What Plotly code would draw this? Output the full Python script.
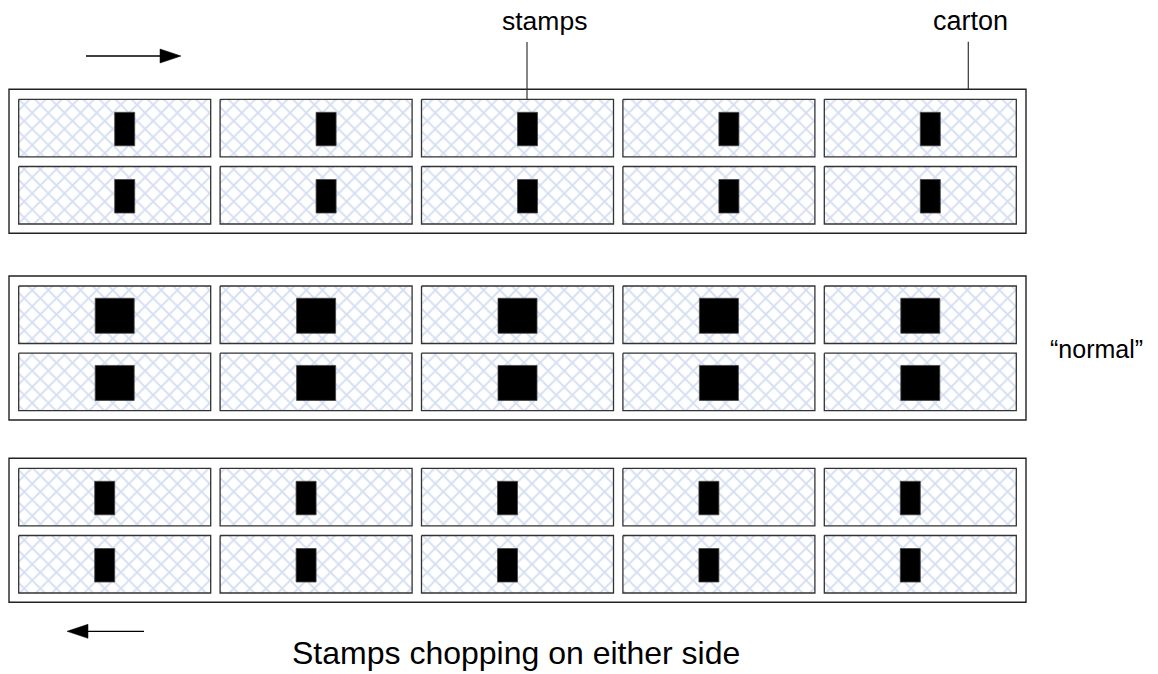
import plotly.graph_objects as go

# ---- diagram content ----
carton_names = ["stamps chopping right", "normal", "stamps chopping left"]
stamp_shift = [10, 0, -10]        # stamp centre offset from box centre (px)
stamp_width = [20, 39, 20]        # stamp width (px)
stamp_height = [33.5, 35, 33.5]   # stamp height (px)
boxes_per_row = 5
rows_per_carton = 2
labels = {"stamps": "stamps", "carton": "carton", "normal": "\u201cnormal\u201d",
          "caption": "Stamps chopping on either side"}

# ---- geometry (pixel space of the 1158x674 canvas) ----
W, H = 1158, 674
carton_x0, carton_x1 = 9, 1026
carton_top = [89.3, 276.0, 458.3]
carton_h = 144
box_x0, box_pitch, box_w = 18.7, 201.4, 192
box_pad_top, row_pitch, box_h = 10, 67.2, 57.5

shapes = []
bx_all, by_all = [], []
for c, top in enumerate(carton_top):
    shapes.append(dict(type="rect", xref="x", yref="y", x0=carton_x0, x1=carton_x1,
                       y0=top, y1=top + carton_h, line=dict(color="#222222", width=1.4),
                       fillcolor="rgba(0,0,0,0)", layer="above"))
    for r in range(rows_per_carton):
        y0 = top + box_pad_top + r * row_pitch
        y1 = y0 + box_h
        for k in range(boxes_per_row):
            x0 = box_x0 + k * box_pitch
            x1 = x0 + box_w
            bx_all += [x0, x1, x1, x0, x0, None]
            by_all += [y0, y0, y1, y1, y0, None]
            cx = (x0 + x1) / 2 + stamp_shift[c]
            cy = (y0 + y1) / 2 + 1
            shapes.append(dict(type="rect", xref="x", yref="y",
                               x0=cx - stamp_width[c] / 2, x1=cx + stamp_width[c] / 2,
                               y0=cy - stamp_height[c] / 2, y1=cy + stamp_height[c] / 2,
                               fillcolor="black", line=dict(color="#444444", width=0.8),
                               layer="above"))

fig = go.Figure()
fig.add_trace(go.Scatter(
    x=bx_all, y=by_all, mode="lines", fill="toself",
    fillcolor="white",
    fillpattern=dict(shape="x", fgcolor="#adc0e5", bgcolor="white", size=11.4, solidity=0.3),
    line=dict(color="#333333", width=1.3), hoverinfo="skip", showlegend=False))

# leader lines
shapes.append(dict(type="line", xref="x", yref="y", x0=527, x1=527, y0=42, y1=99.3,
                   line=dict(color="#333333", width=1.2)))
shapes.append(dict(type="line", xref="x", yref="y", x0=968.3, x1=968.3, y0=41.7, y1=89.3,
                   line=dict(color="#333333", width=1.2)))

# arrows (line + filled triangular head)
def arrow(x_start, x_end, y, head_len=21, head_half=7):
    d = 1 if x_end > x_start else -1
    hb = x_end - d * head_len
    shapes.append(dict(type="line", xref="x", yref="y", x0=x_start, x1=hb, y0=y, y1=y,
                       line=dict(color="black", width=1.3)))
    shapes.append(dict(type="path", xref="x", yref="y",
                       path=f"M {hb},{y - head_half} L {x_end},{y} L {hb},{y + head_half} Z",
                       fillcolor="black", line=dict(color="black", width=0.5)))

arrow(86, 181, 56)
arrow(144, 67, 631.3)

font = "Liberation Sans, Arial, sans-serif"
annotations = [
    dict(x=544, y=21, text=labels["stamps"], font=dict(size=26.5)),
    dict(x=970, y=21, text=labels["carton"], font=dict(size=27)),
    dict(x=1096.5, y=349, text=labels["normal"], font=dict(size=25)),
    dict(x=515.5, y=653, text=labels["caption"], font=dict(size=32)),
]
for a in annotations:
    a.update(xref="x", yref="y", showarrow=False, xanchor="center", yanchor="middle")
    a["font"].update(family=font, color="black")

fig.update_layout(
    width=W, height=H, margin=dict(l=0, r=0, t=0, b=0),
    paper_bgcolor="white", plot_bgcolor="white",
    xaxis=dict(range=[0, W], visible=False, fixedrange=True),
    yaxis=dict(range=[H, 0], visible=False, fixedrange=True),
    shapes=shapes, annotations=annotations, showlegend=False,
)
fig.write_html("out.html", config={"displayModeBar": False},
               post_script="document.body.style.margin='0';document.body.style.overflow='hidden';")
